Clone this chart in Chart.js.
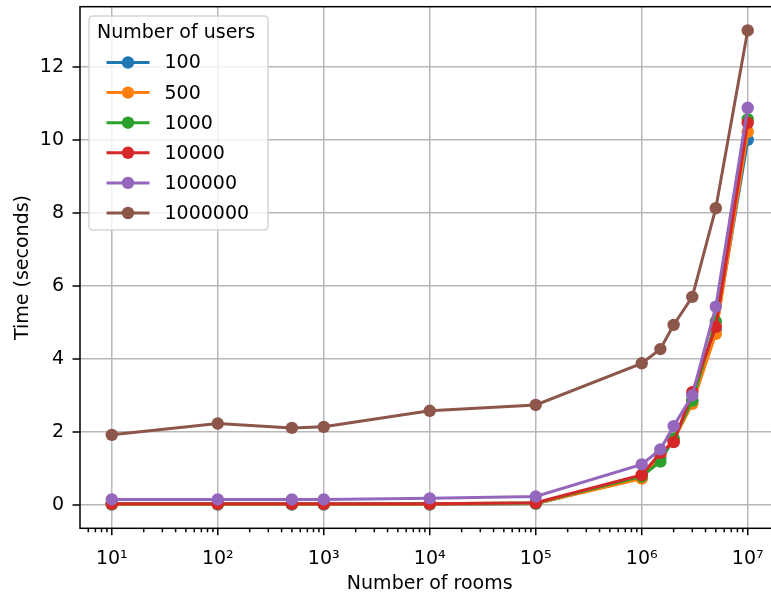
<!DOCTYPE html>
<html>
<head>
<meta charset="utf-8">
<script src="https://cdn.jsdelivr.net/npm/chart.js@4/dist/chart.umd.min.js"></script>
<style>
  html, body { margin: 0; padding: 0; background: #ffffff; overflow: hidden; }
  #wrap { position: absolute; left: 0; top: 0; width: 800px; height: 597px; }
</style>
</head>
<body>
<div id="wrap"><canvas id="chart" width="800" height="597"></canvas></div>
<script>
// Number of rooms on the x axis
const rooms = [10, 100, 500, 1000, 10000, 100000, 1000000, 1500000, 2000000, 3000000, 5000000, 10000000];

// Processing time (seconds), one list per user count
const users100     = [0.01, 0.01, 0.01, 0.01, 0.01, 0.03, 0.75, 1.30, 1.75, 2.85, 4.80, 10.00];
const users500     = [0.02, 0.02, 0.02, 0.02, 0.02, 0.04, 0.72, 1.38, 1.78, 2.77, 4.69, 10.22];
const users1000    = [0.03, 0.03, 0.03, 0.03, 0.03, 0.05, 0.78, 1.19, 1.82, 2.86, 5.03, 10.57];
const users10000   = [0.03, 0.03, 0.03, 0.03, 0.03, 0.06, 0.82, 1.43, 1.72, 3.09, 4.88, 10.47];
const users100000  = [0.15, 0.15, 0.15, 0.15, 0.18, 0.23, 1.11, 1.52, 2.16, 3.00, 5.43, 10.88];
const users1000000 = [1.92, 2.23, 2.11, 2.14, 2.58, 2.74, 3.88, 4.27, 4.93, 5.70, 8.13, 13.00];

const seriesLabels = ['100', '500', '1000', '10000', '100000', '1000000'];
const seriesValues = [users100, users500, users1000, users10000, users100000, users1000000];
const seriesColors = ['#1f77b4', '#ff7f0e', '#2ca02c', '#d62728', '#9467bd', '#8c564b'];

// Axis ticks
const xTickValues = [10, 100, 1000, 10000, 100000, 1000000, 10000000];
const xTickLabels = ['10¹', '10²', '10³', '10⁴', '10⁵', '10⁶', '10⁷'];
const yTickValues = [0, 2, 4, 6, 8, 10, 12];

const FONT = 'DejaVu Sans';
const FS = 19;
const LINE_W = 3;
const MARKER_R = 6.2;
const GRID = '#b8b8b8';

const datasets = seriesValues.map((vals, i) => ({
  label: seriesLabels[i],
  data: rooms.map((r, k) => ({ x: r, y: vals[k] })),
  borderColor: seriesColors[i],
  backgroundColor: seriesColors[i],
  pointBackgroundColor: seriesColors[i],
  pointBorderWidth: 0,
  pointRadius: MARKER_R,
  borderWidth: LINE_W,
  tension: 0,
  fill: false,
  order: seriesValues.length - i
}));

// Frame, tick marks and the boxed legend
const decorations = {
  id: 'decorations',
  beforeDraw(chart) {
    const ctx = chart.ctx;
    ctx.save();
    ctx.fillStyle = '#ffffff';
    ctx.fillRect(0, 0, chart.width, chart.height);
    ctx.restore();
  },
  afterDraw(chart) {
    const ctx = chart.ctx;
    const a = chart.chartArea;
    const xs = chart.scales.x;
    const ys = chart.scales.y;
    ctx.save();
    ctx.strokeStyle = '#000000';
    ctx.lineWidth = 1.5;
    ctx.strokeRect(a.left, a.top, a.right - a.left, a.bottom - a.top);

    // x tick marks: major at decades, minor at 2..9 multiples
    ctx.beginPath();
    for (let e = 0; e <= 8; e++) {
      for (let m = 1; m <= 9; m++) {
        const v = m * Math.pow(10, e);
        if (v < xs.min || v > xs.max) continue;
        const px = xs.getPixelForValue(v);
        const len = m === 1 ? 7 : 4;
        ctx.moveTo(px, a.bottom);
        ctx.lineTo(px, a.bottom + len);
      }
    }
    // y tick marks
    yTickValues.forEach(v => {
      const py = ys.getPixelForValue(v);
      ctx.moveTo(a.left, py);
      ctx.lineTo(a.left - 7.5, py);
    });
    ctx.stroke();

    // legend
    const L = 89, T = 16, R = 268, B = 230, rad = 4;
    ctx.globalAlpha = 0.8;
    ctx.beginPath();
    ctx.moveTo(L + rad, T);
    ctx.lineTo(R - rad, T);
    ctx.quadraticCurveTo(R, T, R, T + rad);
    ctx.lineTo(R, B - rad);
    ctx.quadraticCurveTo(R, B, R - rad, B);
    ctx.lineTo(L + rad, B);
    ctx.quadraticCurveTo(L, B, L, B - rad);
    ctx.lineTo(L, T + rad);
    ctx.quadraticCurveTo(L, T, L + rad, T);
    ctx.closePath();
    ctx.fillStyle = '#ffffff';
    ctx.fill();
    ctx.strokeStyle = '#cccccc';
    ctx.lineWidth = 1.5;
    ctx.stroke();
    ctx.globalAlpha = 1;

    ctx.font = FS + 'px "' + FONT + '"';
    ctx.fillStyle = '#000000';
    ctx.textBaseline = 'middle';
    ctx.textAlign = 'left';
    ctx.fillText('Number of users', 97, 33);

    chart.data.datasets.forEach((ds, i) => {
      const cy = 62.5 + i * 30.1;
      ctx.strokeStyle = ds.borderColor;
      ctx.lineWidth = LINE_W;
      ctx.beginPath();
      ctx.moveTo(106.5, cy);
      ctx.lineTo(149.5, cy);
      ctx.stroke();
      ctx.fillStyle = ds.borderColor;
      ctx.beginPath();
      ctx.arc(128, cy, MARKER_R, 0, Math.PI * 2);
      ctx.fill();
      ctx.fillStyle = '#000000';
      ctx.fillText(ds.label, 164.5, cy + 1);
    });
    ctx.restore();
  }
};

new Chart(document.getElementById('chart'), {
  type: 'line',
  data: { datasets },
  options: {
    responsive: false,
    animation: false,
    events: [],
    layout: { padding: { top: 6.7, right: 20.5, left: 0, bottom: 0 } },
    plugins: { legend: { display: false }, tooltip: { enabled: false } },
    scales: {
      x: {
        type: 'logarithmic',
        min: Math.pow(10, 0.7),
        max: Math.pow(10, 7.3),
        afterBuildTicks(scale) { scale.ticks = xTickValues.map(v => ({ value: v })); },
        afterFit(scale) {
          scale.height = 597 - 528.3;
          scale.paddingLeft = 0; scale.paddingRight = 0;
        },
        grid: { color: GRID, lineWidth: 1.5, drawTicks: false },
        border: { display: false },
        ticks: {
          autoSkip: false,
          maxRotation: 0,
          padding: 19,
          color: '#000000',
          font: { family: FONT, size: FS },
          callback: (value, index) => xTickLabels[index]
        },
        title: {
          display: true,
          text: 'Number of rooms',
          color: '#000000',
          font: { family: FONT, size: FS },
          padding: { top: 0, bottom: 2 }
        }
      },
      y: {
        type: 'linear',
        min: -0.64,
        max: 13.65,
        afterBuildTicks(scale) { scale.ticks = yTickValues.map(v => ({ value: v })); },
        afterFit(scale) {
          scale.width = 80;
          scale.paddingTop = 0; scale.paddingBottom = 0;
        },
        grid: { color: GRID, lineWidth: 1.5, drawTicks: false },
        border: { display: false },
        ticks: {
          padding: 16,
          color: '#000000',
          font: { family: FONT, size: FS },
          callback: v => String(v)
        },
        title: {
          display: true,
          text: 'Time (seconds)',
          color: '#000000',
          font: { family: FONT, size: FS },
          padding: { top: 12, bottom: 0 }
        }
      }
    }
  },
  plugins: [decorations]
});
</script>
</body>
</html>
